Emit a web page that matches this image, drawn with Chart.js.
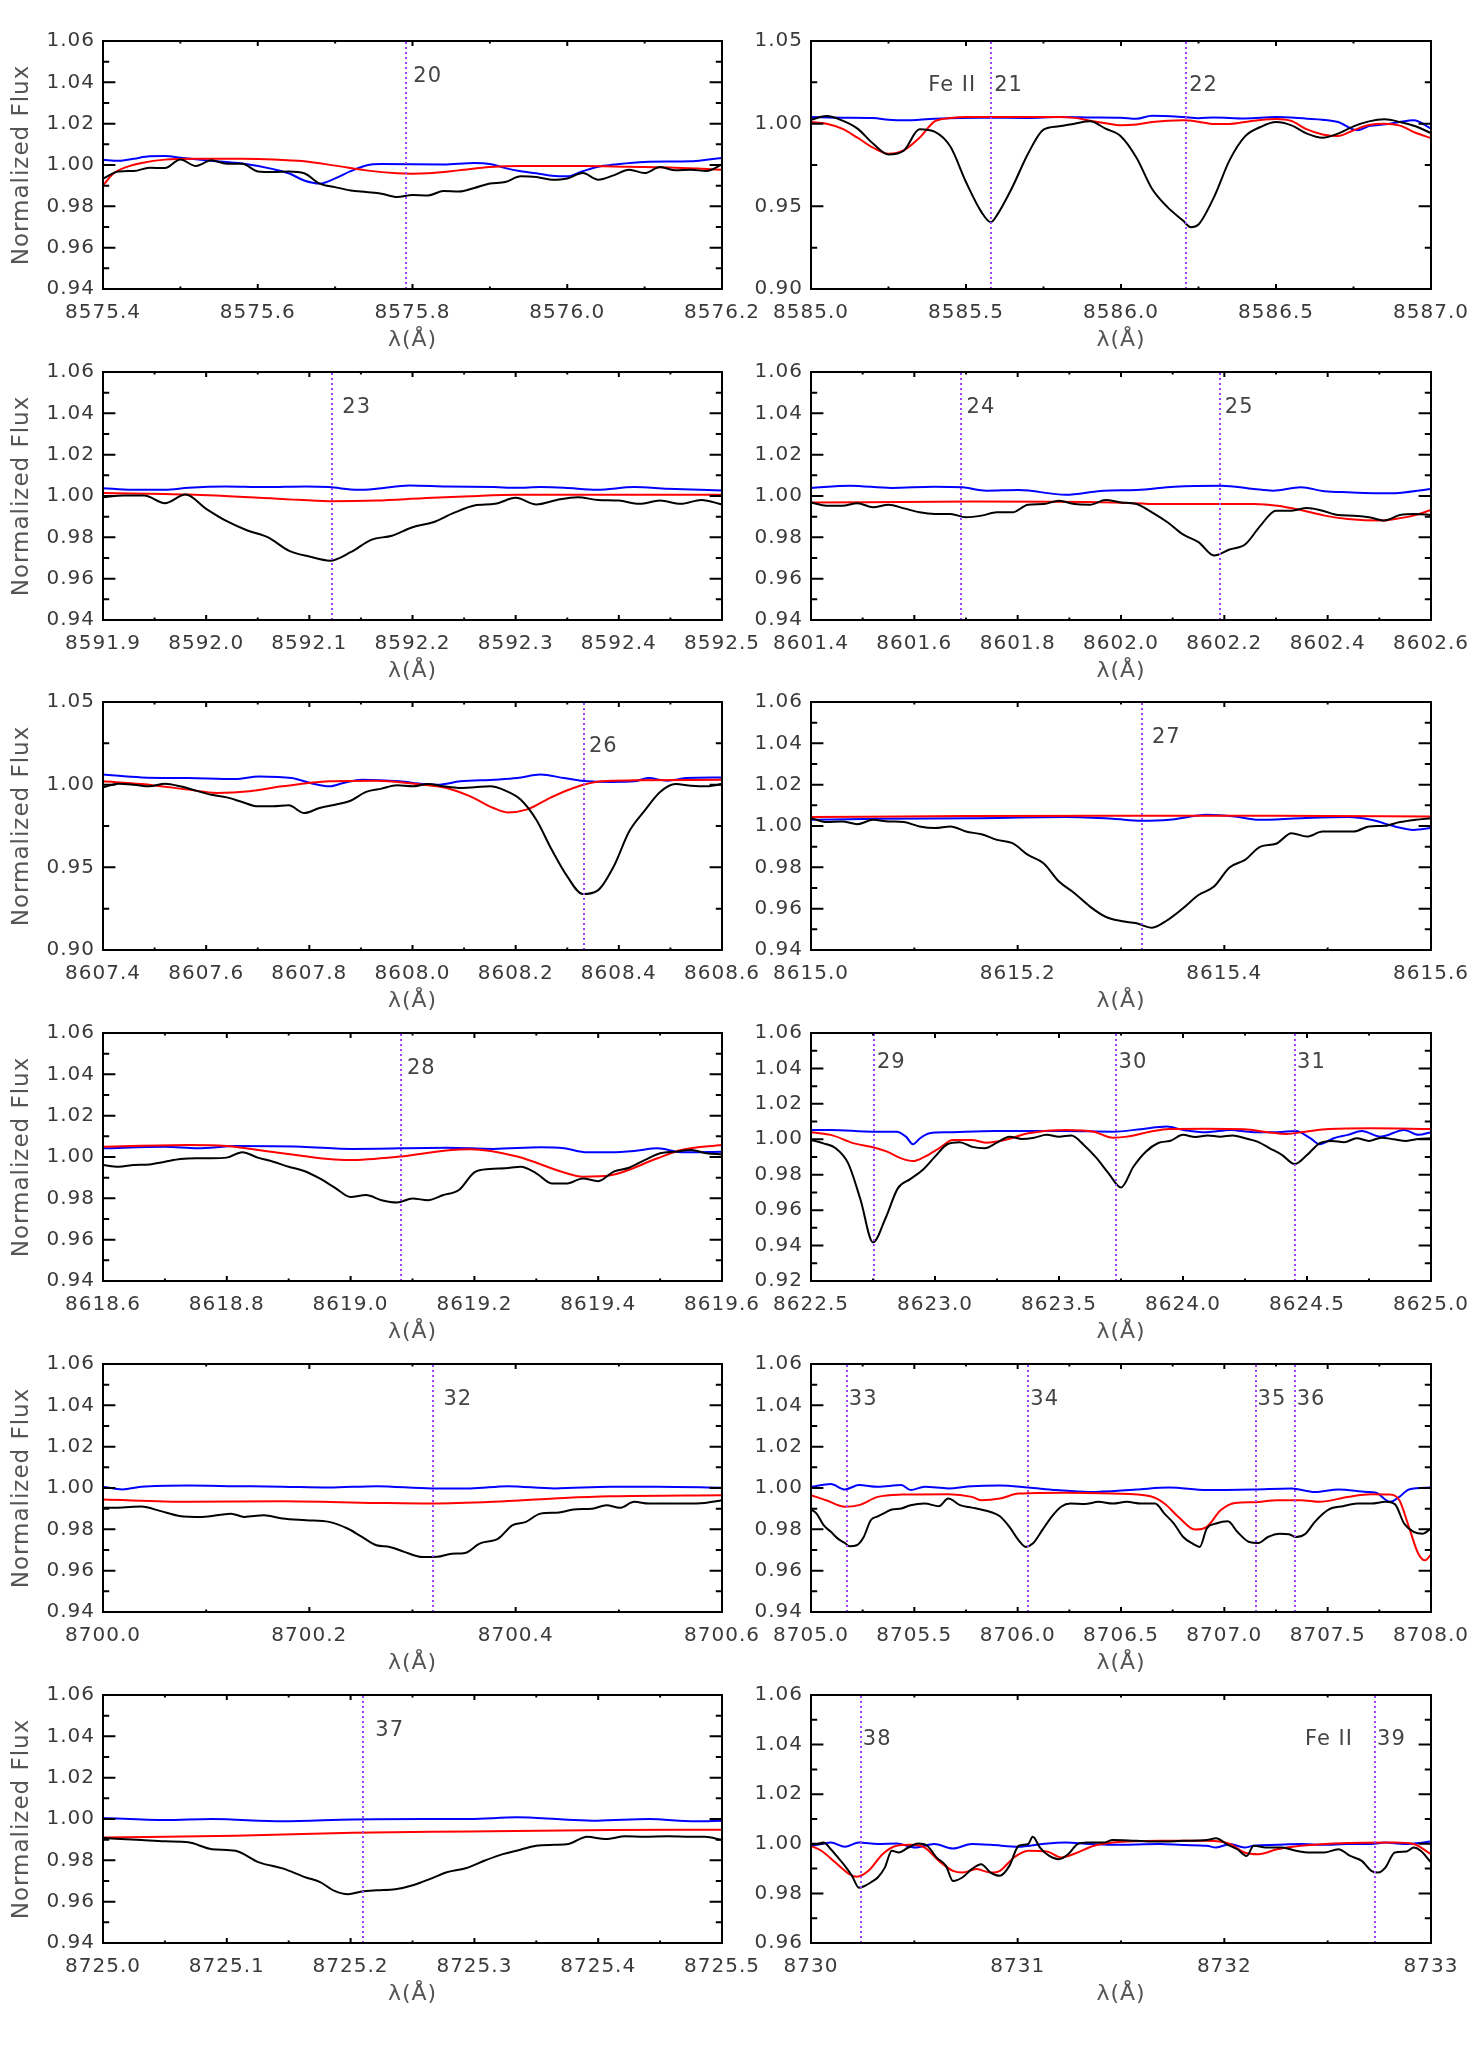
<!DOCTYPE html>
<html><head><meta charset="utf-8">
<script src="https://cdn.jsdelivr.net/npm/chart.js@4.4.1/dist/chart.umd.min.js"></script>
<style>
html,body{margin:0;padding:0;background:#fff;}
body{width:1475px;height:2067px;position:relative;overflow:hidden;}
canvas{position:absolute;}
</style>
</head><body>
<script>
// ---------------- DATA (wavelength, normalized flux) ----------------
const Y_TITLE = 'Normalized Flux';
const X_TITLE = 'λ(Å)';

const yticks_a = [0.94,0.96,0.98,1.00,1.02,1.04,1.06];
const yticks_b = [0.90,0.95,1.00,1.05];
const yticks_c = [0.92,0.94,0.96,0.98,1.00,1.02,1.04,1.06];
const yticks_d = [0.96,0.98,1.00,1.02,1.04,1.06];

// Panel 20
const p20_xticks = [8575.4,8575.6,8575.8,8576.0,8576.2];
const p20_lines = [8575.791];
const p20_names = ['20'];
const p20_black = [[8575.40,0.9934],[8575.42,0.9969],[8575.44,0.9971],[8575.46,0.9987],[8575.48,0.9985],[8575.50,1.0027],[8575.52,0.9995],[8575.54,1.0023],[8575.56,1.0006],[8575.58,1.0006],[8575.60,0.9969],[8575.62,0.9966],[8575.64,0.9968],[8575.66,0.9960],[8575.68,0.9910],[8575.70,0.9893],[8575.72,0.9877],[8575.74,0.9869],[8575.76,0.9861],[8575.78,0.9845],[8575.80,0.9855],[8575.82,0.9853],[8575.84,0.9874],[8575.86,0.9872],[8575.88,0.9889],[8575.90,0.9910],[8575.92,0.9918],[8575.94,0.9945],[8575.96,0.9942],[8575.98,0.9929],[8576.00,0.9935],[8576.02,0.9961],[8576.04,0.9929],[8576.06,0.9950],[8576.08,0.9977],[8576.10,0.9961],[8576.12,0.9990],[8576.14,0.9974],[8576.16,0.9977],[8576.18,0.9971],[8576.20,1.0003]];
const p20_red = [[8575.400,0.9900],[8575.413,0.9958],[8575.430,0.9990],[8575.450,1.0010],[8575.480,1.0026],[8575.520,1.0030],[8575.580,1.0030],[8575.620,1.0027],[8575.660,1.0018],[8575.700,0.9997],[8575.740,0.9974],[8575.780,0.9960],[8575.800,0.9958],[8575.820,0.9960],[8575.860,0.9974],[8575.900,0.9990],[8575.940,0.9995],[8576.020,0.9995],[8576.080,0.9991],[8576.140,0.9987],[8576.200,0.9977]];
const p20_blue = [[8575.40,1.0026],[8575.42,1.0020],[8575.44,1.0030],[8575.46,1.0042],[8575.48,1.0043],[8575.50,1.0035],[8575.54,1.0020],[8575.58,1.0007],[8575.62,0.9980],[8575.64,0.9960],[8575.66,0.9925],[8575.68,0.9910],[8575.70,0.9935],[8575.72,0.9970],[8575.74,0.9998],[8575.76,1.0005],[8575.84,1.0003],[8575.88,1.0010],[8575.90,1.0005],[8575.92,0.9985],[8575.94,0.9970],[8575.96,0.9960],[8575.98,0.9948],[8576.00,0.9945],[8576.02,0.9970],[8576.04,0.9992],[8576.06,1.0002],[8576.10,1.0015],[8576.16,1.0018],[8576.18,1.0025],[8576.20,1.0034]];

// Panel 21/22
const p21_xticks = [8585.0,8585.5,8586.0,8586.5,8587.0];
const p21_lines = [8585.581,8586.210];
const p21_names = ['21','22'];
const p21_species = ['Fe II',''];
const p21_black = [[8585.00,1.0024],[8585.05,1.0046],[8585.10,1.0020],[8585.15,0.9970],[8585.20,0.9880],[8585.25,0.9814],[8585.30,0.9838],[8585.35,0.9966],[8585.40,0.9950],[8585.45,0.9860],[8585.50,0.9647],[8585.55,0.9465],[8585.58,0.9404],[8585.60,0.9447],[8585.65,0.9618],[8585.70,0.9818],[8585.75,0.9964],[8585.80,0.9984],[8585.85,1.0000],[8585.90,1.0014],[8585.95,0.9970],[8586.00,0.9923],[8586.05,0.9794],[8586.10,0.9606],[8586.15,0.9495],[8586.20,0.9414],[8586.225,0.9374],[8586.25,0.9390],[8586.30,0.9556],[8586.35,0.9778],[8586.40,0.9923],[8586.45,0.9980],[8586.50,1.0010],[8586.55,0.9990],[8586.60,0.9940],[8586.65,0.9915],[8586.70,0.9940],[8586.75,0.9984],[8586.80,1.0014],[8586.85,1.0026],[8586.90,1.0010],[8586.95,0.9984],[8587.00,0.9943]];
const p21_red = [[8585.00,1.0010],[8585.05,1.0000],[8585.10,0.9970],[8585.15,0.9915],[8585.20,0.9855],[8585.25,0.9818],[8585.30,0.9840],[8585.35,0.9915],[8585.40,1.0015],[8585.45,1.0034],[8585.50,1.0040],[8585.80,1.0040],[8585.85,1.0035],[8585.90,1.0018],[8585.95,1.0003],[8586.00,0.9990],[8586.05,0.9995],[8586.10,1.0010],[8586.20,1.0020],[8586.25,1.0012],[8586.30,0.9998],[8586.35,0.9998],[8586.40,1.0010],[8586.45,1.0022],[8586.50,1.0028],[8586.55,1.0016],[8586.60,0.9965],[8586.65,0.9935],[8586.70,0.9925],[8586.75,0.9960],[8586.80,0.9992],[8586.85,1.0000],[8586.90,0.9988],[8586.95,0.9945],[8587.00,0.9913]];
const p21_blue = [[8585.00,1.0040],[8585.10,1.0036],[8585.20,1.0034],[8585.25,1.0024],[8585.30,1.0020],[8585.40,1.0030],[8585.55,1.0036],[8585.70,1.0035],[8585.80,1.0040],[8585.90,1.0038],[8586.00,1.0036],[8586.05,1.0030],[8586.10,1.0048],[8586.20,1.0040],[8586.25,1.0033],[8586.30,1.0038],[8586.40,1.0032],[8586.50,1.0040],[8586.60,1.0030],[8586.65,1.0024],[8586.70,1.0010],[8586.762,0.9960],[8586.80,0.9985],[8586.853,0.9996],[8586.898,1.0010],[8586.944,1.0020],[8587.00,0.9970]];

// Panel 23
const p23_xticks = [8591.9,8592.0,8592.1,8592.2,8592.3,8592.4,8592.5];
const p23_lines = [8592.122];
const p23_names = ['23'];
const p23_black = [[8591.90,0.9994],[8591.92,1.0002],[8591.94,1.0002],[8591.96,0.9965],[8591.98,1.0007],[8592.00,0.9938],[8592.02,0.9878],[8592.04,0.9833],[8592.06,0.9800],[8592.08,0.9736],[8592.10,0.9707],[8592.12,0.9687],[8592.14,0.9728],[8592.16,0.9788],[8592.18,0.9808],[8592.20,0.9849],[8592.22,0.9873],[8592.24,0.9918],[8592.26,0.9954],[8592.28,0.9962],[8592.30,0.9991],[8592.32,0.9959],[8592.34,0.9981],[8592.36,0.9994],[8592.38,0.9981],[8592.40,0.9978],[8592.42,0.9962],[8592.44,0.9978],[8592.46,0.9962],[8592.48,0.9981],[8592.50,0.9959]];
const p23_red = [[8591.900,1.0014],[8591.983,1.0007],[8592.074,0.9986],[8592.119,0.9975],[8592.165,0.9978],[8592.210,0.9989],[8592.256,0.9999],[8592.301,1.0006],[8592.500,1.0006]];
const p23_blue = [[8591.900,1.0038],[8591.928,1.0030],[8591.960,1.0030],[8591.983,1.0040],[8592.019,1.0046],[8592.056,1.0043],[8592.097,1.0046],[8592.119,1.0043],[8592.147,1.0030],[8592.165,1.0035],[8592.197,1.0051],[8592.233,1.0046],[8592.279,1.0043],[8592.301,1.0040],[8592.324,1.0043],[8592.347,1.0040],[8592.379,1.0030],[8592.415,1.0043],[8592.447,1.0035],[8592.479,1.0030],[8592.500,1.0027]];

// Panel 24/25
const p24_xticks = [8601.4,8601.6,8601.8,8602.0,8602.2,8602.4,8602.6];
const p24_lines = [8601.691,8602.191];
const p24_names = ['24','25'];
const p24_black = [[8601.40,0.9969],[8601.43,0.9953],[8601.46,0.9953],[8601.49,0.9965],[8601.52,0.9945],[8601.55,0.9958],[8601.58,0.9940],[8601.61,0.9921],[8601.64,0.9913],[8601.67,0.9913],[8601.70,0.9897],[8601.73,0.9905],[8601.76,0.9921],[8601.79,0.9921],[8601.82,0.9958],[8601.85,0.9961],[8601.88,0.9977],[8601.91,0.9961],[8601.94,0.9958],[8601.97,0.9981],[8602.00,0.9969],[8602.03,0.9961],[8602.06,0.9921],[8602.09,0.9873],[8602.12,0.9814],[8602.15,0.9777],[8602.18,0.9712],[8602.21,0.9741],[8602.24,0.9765],[8602.27,0.9857],[8602.30,0.9929],[8602.33,0.9929],[8602.36,0.9942],[8602.39,0.9929],[8602.42,0.9908],[8602.45,0.9905],[8602.48,0.9897],[8602.51,0.9881],[8602.54,0.9908],[8602.57,0.9913],[8602.60,0.9908]];
const p24_red = [[8601.400,0.9968],[8601.711,0.9973],[8601.984,0.9969],[8602.075,0.9961],[8602.257,0.9961],[8602.303,0.9953],[8602.348,0.9932],[8602.394,0.9905],[8602.439,0.9889],[8602.503,0.9881],[8602.530,0.9889],[8602.566,0.9905],[8602.600,0.9932]];
const p24_blue = [[8601.400,1.0039],[8601.475,1.0050],[8601.556,1.0039],[8601.638,1.0045],[8601.693,1.0042],[8601.739,1.0026],[8601.802,1.0029],[8601.893,1.0006],[8601.966,1.0026],[8602.030,1.0029],[8602.103,1.0045],[8602.194,1.0050],[8602.257,1.0034],[8602.294,1.0026],[8602.348,1.0042],[8602.394,1.0023],[8602.439,1.0018],[8602.521,1.0013],[8602.600,1.0034]];

// Panel 26
const p26_xticks = [8607.4,8607.6,8607.8,8608.0,8608.2,8608.4,8608.6];
const p26_lines = [8608.332];
const p26_names = ['26'];
const p26_black = [[8607.40,0.9984],[8607.43,1.0006],[8607.46,1.0000],[8607.49,0.9990],[8607.52,1.0006],[8607.55,0.9990],[8607.58,0.9964],[8607.61,0.9939],[8607.64,0.9923],[8607.67,0.9895],[8607.70,0.9869],[8607.73,0.9869],[8607.76,0.9875],[8607.79,0.9828],[8607.82,0.9859],[8607.85,0.9879],[8607.88,0.9903],[8607.91,0.9956],[8607.94,0.9976],[8607.97,0.9996],[8608.00,0.9990],[8608.03,1.0004],[8608.06,0.9990],[8608.09,0.9980],[8608.12,0.9984],[8608.15,0.9990],[8608.18,0.9964],[8608.21,0.9909],[8608.24,0.9788],[8608.27,0.9606],[8608.30,0.9445],[8608.33,0.9338],[8608.36,0.9362],[8608.39,0.9505],[8608.42,0.9717],[8608.45,0.9843],[8608.48,0.9956],[8608.51,1.0004],[8608.54,0.9994],[8608.57,0.9990],[8608.60,1.0004]];
const p26_red = [[8607.400,1.0020],[8607.475,1.0004],[8607.566,0.9970],[8607.620,0.9950],[8607.684,0.9960],[8607.748,0.9990],[8607.839,1.0020],[8607.930,1.0024],[8608.020,1.0000],[8608.066,0.9980],[8608.112,0.9929],[8608.157,0.9859],[8608.184,0.9832],[8608.221,0.9849],[8608.266,0.9919],[8608.312,0.9980],[8608.366,1.0020],[8608.430,1.0026],[8608.600,1.0030]];
const p26_blue = [[8607.400,1.0061],[8607.475,1.0044],[8607.566,1.0040],[8607.657,1.0034],[8607.702,1.0050],[8607.766,1.0040],[8607.802,1.0010],[8607.839,0.9990],[8607.866,1.0010],[8607.902,1.0030],[8607.975,1.0020],[8608.020,1.0004],[8608.048,1.0000],[8608.093,1.0020],[8608.157,1.0030],[8608.203,1.0040],[8608.248,1.0061],[8608.294,1.0040],[8608.339,1.0020],[8608.385,1.0016],[8608.430,1.0020],[8608.457,1.0040],[8608.494,1.0024],[8608.530,1.0040],[8608.600,1.0044]];

// Panel 27
const p27_xticks = [8615.0,8615.2,8615.4,8615.6];
const p27_lines = [8615.320];
const p27_names = ['27'];
const p27_black = [[8615.000,1.0038],[8615.015,1.0019],[8615.030,1.0022],[8615.045,1.0009],[8615.060,1.0030],[8615.075,1.0022],[8615.090,1.0019],[8615.105,0.9998],[8615.120,0.9990],[8615.135,0.9998],[8615.150,0.9973],[8615.165,0.9960],[8615.180,0.9933],[8615.195,0.9917],[8615.210,0.9860],[8615.225,0.9820],[8615.240,0.9731],[8615.255,0.9675],[8615.270,0.9610],[8615.285,0.9561],[8615.300,0.9540],[8615.315,0.9529],[8615.330,0.9508],[8615.345,0.9545],[8615.360,0.9602],[8615.375,0.9666],[8615.390,0.9707],[8615.405,0.9799],[8615.420,0.9836],[8615.435,0.9900],[8615.450,0.9914],[8615.465,0.9965],[8615.480,0.9949],[8615.495,0.9973],[8615.510,0.9973],[8615.525,0.9973],[8615.540,0.9998],[8615.555,1.0001],[8615.570,1.0019],[8615.585,1.0030],[8615.600,1.0038]];
const p27_red = [[8615.00,1.0043],[8615.15,1.0048],[8615.30,1.0050],[8615.45,1.0049],[8615.60,1.0046]];
const p27_blue = [[8615.000,1.0030],[8615.065,1.0035],[8615.156,1.0038],[8615.247,1.0043],[8615.292,1.0035],[8615.320,1.0025],[8615.347,1.0030],[8615.383,1.0054],[8615.410,1.0046],[8615.433,1.0030],[8615.474,1.0038],[8615.520,1.0043],[8615.542,1.0030],[8615.565,0.9998],[8615.583,0.9981],[8615.600,0.9990]];

// Panel 28
const p28_xticks = [8618.6,8618.8,8619.0,8619.2,8619.4,8619.6];
const p28_lines = [8619.081];
const p28_names = ['28'];
const p28_black = [[8618.600,0.9961],[8618.625,0.9953],[8618.650,0.9961],[8618.675,0.9964],[8618.700,0.9977],[8618.725,0.9990],[8618.750,0.9994],[8618.775,0.9994],[8618.800,0.9997],[8618.825,1.0023],[8618.850,0.9997],[8618.875,0.9977],[8618.900,0.9953],[8618.925,0.9932],[8618.950,0.9896],[8618.975,0.9851],[8619.000,0.9807],[8619.025,0.9816],[8619.050,0.9791],[8619.075,0.9780],[8619.100,0.9799],[8619.125,0.9791],[8619.150,0.9816],[8619.175,0.9840],[8619.200,0.9926],[8619.225,0.9942],[8619.250,0.9945],[8619.275,0.9953],[8619.300,0.9921],[8619.325,0.9872],[8619.350,0.9872],[8619.375,0.9896],[8619.400,0.9883],[8619.425,0.9929],[8619.450,0.9948],[8619.475,0.9985],[8619.500,1.0018],[8619.525,1.0026],[8619.550,1.0034],[8619.575,1.0018],[8619.600,1.0013]];
const p28_red = [[8618.600,1.0050],[8618.738,1.0058],[8618.799,1.0053],[8618.890,1.0018],[8618.996,0.9985],[8619.079,1.0002],[8619.163,1.0034],[8619.193,1.0037],[8619.269,1.0002],[8619.345,0.9925],[8619.375,0.9905],[8619.420,0.9912],[8619.496,0.9994],[8619.534,1.0034],[8619.600,1.0058]];
const p28_blue = [[8618.600,1.0042],[8618.700,1.0050],[8618.753,1.0042],[8618.814,1.0053],[8618.920,1.0050],[8619.003,1.0039],[8619.155,1.0045],[8619.231,1.0039],[8619.307,1.0047],[8619.345,1.0042],[8619.382,1.0023],[8619.420,1.0023],[8619.458,1.0029],[8619.496,1.0042],[8619.534,1.0023],[8619.600,1.0026]];

// Panel 29/30/31
const p29_xticks = [8622.5,8623.0,8623.5,8624.0,8624.5,8625.0];
const p29_lines = [8622.756,8623.730,8624.450];
const p29_names = ['29','30','31'];
const p29_black = [[8622.50,0.9996],[8622.55,0.9977],[8622.60,0.9949],[8622.65,0.9864],[8622.70,0.9657],[8622.75,0.9418],[8622.80,0.9553],[8622.85,0.9723],[8622.90,0.9775],[8622.95,0.9826],[8623.00,0.9902],[8623.05,0.9972],[8623.10,0.9983],[8623.15,0.9957],[8623.20,0.9949],[8623.25,0.9981],[8623.30,1.0015],[8623.35,1.0002],[8623.40,1.0009],[8623.45,1.0025],[8623.50,1.0015],[8623.55,1.0021],[8623.60,0.9968],[8623.65,0.9896],[8623.70,0.9808],[8623.75,0.9728],[8623.80,0.9845],[8623.85,0.9930],[8623.90,0.9979],[8623.95,0.9992],[8624.00,1.0025],[8624.05,1.0013],[8624.10,1.0021],[8624.15,1.0015],[8624.20,1.0021],[8624.25,1.0006],[8624.30,0.9987],[8624.35,0.9949],[8624.40,0.9911],[8624.45,0.9860],[8624.50,0.9911],[8624.55,0.9977],[8624.60,0.9991],[8624.65,0.9983],[8624.70,1.0006],[8624.75,0.9991],[8624.80,1.0009],[8624.85,1.0000],[8624.90,0.9991],[8624.95,1.0002],[8625.00,1.0006]];
const p29_red = [[8622.500,1.0040],[8622.580,1.0025],[8622.674,0.9977],[8622.750,0.9955],[8622.807,0.9930],[8622.864,0.9892],[8622.911,0.9877],[8622.959,0.9902],[8623.016,0.9949],[8623.072,0.9996],[8623.148,0.9996],[8623.205,0.9981],[8623.281,0.9996],[8623.376,1.0034],[8623.528,1.0053],[8623.641,1.0043],[8623.717,1.0009],[8623.774,1.0015],[8623.868,1.0043],[8623.944,1.0058],[8624.096,1.0060],[8624.248,1.0057],[8624.342,1.0040],[8624.418,1.0030],[8624.494,1.0043],[8624.589,1.0058],[8624.759,1.0062],[8625.000,1.0058]];
const p29_blue = [[8622.500,1.0053],[8622.580,1.0053],[8622.750,1.0043],[8622.845,1.0043],[8622.883,1.0015],[8622.911,0.9972],[8622.940,1.0006],[8622.978,1.0034],[8623.053,1.0040],[8623.243,1.0047],[8623.527,1.0047],[8623.717,1.0043],[8623.831,1.0057],[8623.935,1.0072],[8624.001,1.0053],[8624.096,1.0040],[8624.191,1.0053],[8624.285,1.0040],[8624.380,1.0040],[8624.456,1.0047],[8624.513,1.0006],[8624.551,0.9972],[8624.608,1.0006],[8624.665,1.0025],[8624.721,1.0047],[8624.797,1.0015],[8624.892,1.0053],[8624.949,1.0025],[8625.000,1.0040]];

// Panel 32
const p32_xticks = [8700.0,8700.2,8700.4,8700.6];
const p32_lines = [8700.320];
const p32_names = ['32'];
const p32_black = [[8700.000,0.9904],[8700.019,0.9906],[8700.037,0.9910],[8700.056,0.9888],[8700.074,0.9865],[8700.096,0.9860],[8700.124,0.9876],[8700.137,0.9860],[8700.156,0.9868],[8700.174,0.9852],[8700.197,0.9844],[8700.219,0.9836],[8700.237,0.9804],[8700.251,0.9763],[8700.265,0.9723],[8700.278,0.9715],[8700.292,0.9691],[8700.310,0.9666],[8700.324,0.9667],[8700.338,0.9682],[8700.351,0.9686],[8700.365,0.9731],[8700.383,0.9755],[8700.397,0.9820],[8700.410,0.9836],[8700.424,0.9876],[8700.442,0.9881],[8700.456,0.9896],[8700.474,0.9900],[8700.488,0.9917],[8700.501,0.9904],[8700.515,0.9933],[8700.529,0.9925],[8700.547,0.9925],[8700.565,0.9925],[8700.583,0.9928],[8700.600,0.9941]];
const p32_red = [[8700.000,0.9944],[8700.083,0.9933],[8700.174,0.9936],[8700.265,0.9928],[8700.319,0.9925],[8700.378,0.9933],[8700.447,0.9952],[8700.492,0.9960],[8700.600,0.9965]];
const p32_blue = [[8700.000,1.0006],[8700.019,0.9993],[8700.037,1.0006],[8700.083,1.0012],[8700.128,1.0009],[8700.174,1.0006],[8700.219,1.0002],[8700.265,1.0009],[8700.319,0.9998],[8700.356,0.9998],[8700.392,1.0009],[8700.438,0.9998],[8700.492,1.0006],[8700.538,1.0006],[8700.600,1.0001]];

// Panel 33-36
const p33_xticks = [8705.0,8705.5,8706.0,8706.5,8707.0,8707.5,8708.0];
const p33_lines = [8705.173,8706.051,8707.151,8707.340];
const p33_names = ['33','34','35','36'];
const p33_black = [[8705.000,0.9896],[8705.027,0.9876],[8705.061,0.9820],[8705.096,0.9788],[8705.130,0.9755],[8705.164,0.9734],[8705.186,0.9718],[8705.221,0.9723],[8705.255,0.9763],[8705.289,0.9844],[8705.323,0.9863],[8705.357,0.9880],[8705.391,0.9896],[8705.437,0.9901],[8705.482,0.9917],[8705.550,0.9925],[8705.619,0.9912],[8705.664,0.9949],[8705.721,0.9917],[8705.778,0.9905],[8705.823,0.9896],[8705.869,0.9884],[8705.914,0.9863],[8705.960,0.9812],[8706.005,0.9747],[8706.039,0.9715],[8706.073,0.9731],[8706.119,0.9796],[8706.164,0.9860],[8706.210,0.9909],[8706.255,0.9925],[8706.324,0.9922],[8706.392,0.9933],[8706.460,0.9925],[8706.528,0.9933],[8706.597,0.9925],[8706.665,0.9925],[8706.710,0.9876],[8706.756,0.9828],[8706.801,0.9763],[8706.847,0.9731],[8706.881,0.9715],[8706.915,0.9804],[8706.960,0.9828],[8707.017,0.9839],[8707.063,0.9788],[8707.120,0.9739],[8707.165,0.9734],[8707.211,0.9763],[8707.267,0.9779],[8707.313,0.9776],[8707.347,0.9763],[8707.393,0.9779],[8707.438,0.9836],[8707.506,0.9896],[8707.574,0.9912],[8707.643,0.9925],[8707.711,0.9925],[8707.779,0.9933],[8707.825,0.9922],[8707.870,0.9828],[8707.916,0.9788],[8707.961,0.9779],[8708.000,0.9804]];
const p33_red = [[8705.000,0.9965],[8705.073,0.9941],[8705.164,0.9909],[8705.232,0.9917],[8705.323,0.9957],[8705.437,0.9968],[8705.664,0.9970],[8705.778,0.9957],[8705.823,0.9941],[8705.914,0.9949],[8706.005,0.9973],[8706.233,0.9977],[8706.460,0.9973],[8706.642,0.9960],[8706.710,0.9925],[8706.778,0.9860],[8706.858,0.9799],[8706.915,0.9812],[8706.983,0.9893],[8707.051,0.9928],[8707.142,0.9931],[8707.256,0.9941],[8707.370,0.9941],[8707.461,0.9933],[8707.597,0.9957],[8707.711,0.9970],[8707.802,0.9968],[8707.847,0.9941],[8707.893,0.9812],[8707.938,0.9683],[8707.972,0.9650],[8708.000,0.9679]];
const p33_blue = [[8705.000,1.0006],[8705.096,1.0019],[8705.164,0.9993],[8705.232,1.0014],[8705.323,1.0006],[8705.437,1.0014],[8705.482,0.9990],[8705.550,1.0006],[8705.664,0.9998],[8705.778,1.0009],[8705.914,1.0012],[8706.051,1.0002],[8706.187,0.9990],[8706.346,0.9981],[8706.574,0.9993],[8706.733,1.0002],[8706.915,0.9990],[8707.142,0.9993],[8707.324,0.9998],[8707.438,0.9981],[8707.552,0.9993],[8707.688,0.9981],[8707.734,0.9977],[8707.802,0.9933],[8707.847,0.9957],[8707.893,0.9993],[8708.000,1.0002]];

// Panel 37
const p37_xticks = [8725.0,8725.1,8725.2,8725.3,8725.4,8725.5];
const p37_lines = [8725.210];
const p37_names = ['37'];
const p37_black = [[8725.000,0.9908],[8725.031,0.9898],[8725.050,0.9892],[8725.069,0.9887],[8725.088,0.9854],[8725.107,0.9846],[8725.126,0.9790],[8725.145,0.9761],[8725.164,0.9717],[8725.175,0.9696],[8725.187,0.9652],[8725.198,0.9636],[8725.209,0.9649],[8725.221,0.9655],[8725.236,0.9660],[8725.251,0.9681],[8725.266,0.9714],[8725.277,0.9741],[8725.293,0.9762],[8725.308,0.9798],[8725.323,0.9830],[8725.334,0.9846],[8725.350,0.9871],[8725.365,0.9875],[8725.376,0.9879],[8725.391,0.9914],[8725.406,0.9903],[8725.422,0.9916],[8725.437,0.9914],[8725.456,0.9916],[8725.475,0.9914],[8725.486,0.9914],[8725.500,0.9898]];
const p37_red = [[8725.000,0.9911],[8725.107,0.9919],[8725.202,0.9934],[8725.296,0.9940],[8725.410,0.9947],[8725.500,0.9948]];
const p37_blue = [[8725.000,1.0005],[8725.050,0.9995],[8725.088,1.0000],[8725.145,0.9989],[8725.202,0.9998],[8725.259,1.0000],[8725.296,1.0000],[8725.334,1.0008],[8725.372,0.9998],[8725.399,0.9992],[8725.441,1.0000],[8725.478,0.9989],[8725.500,0.9992]];

// Panel 38/39
const p38_xticks = [8730,8731,8732,8733];
const p38_lines = [8730.241,8732.729];
const p38_names = ['38','39'];
const p38_species = ['','Fe II'];
const p38_black = [[8730.000,0.9996],[8730.027,0.9999],[8730.061,1.0005],[8730.096,0.9978],[8730.130,0.9945],[8730.164,0.9911],[8730.198,0.9871],[8730.232,0.9823],[8730.259,0.9830],[8730.289,0.9844],[8730.323,0.9864],[8730.357,0.9904],[8730.391,0.9972],[8730.425,0.9965],[8730.471,0.9985],[8730.516,1.0001],[8730.562,0.9992],[8730.607,0.9945],[8730.653,0.9911],[8730.687,0.9850],[8730.732,0.9864],[8730.778,0.9898],[8730.823,0.9918],[8730.869,0.9884],[8730.914,0.9871],[8730.960,0.9911],[8731.005,0.9992],[8731.051,0.9999],[8731.073,1.0028],[8731.108,0.9985],[8731.153,0.9951],[8731.199,0.9938],[8731.244,0.9958],[8731.290,0.9999],[8731.335,1.0005],[8731.415,1.0005],[8731.460,1.0015],[8731.574,1.0012],[8731.688,1.0009],[8731.801,1.0012],[8731.915,1.0015],[8731.960,1.0022],[8732.017,0.9996],[8732.063,0.9978],[8732.108,0.9951],[8732.142,0.9992],[8732.211,0.9985],[8732.279,0.9985],[8732.347,0.9972],[8732.415,0.9965],[8732.483,0.9965],[8732.552,0.9978],[8732.609,0.9951],[8732.665,0.9931],[8732.711,0.9891],[8732.745,0.9884],[8732.779,0.9904],[8732.825,0.9965],[8732.882,0.9969],[8732.916,0.9985],[8732.950,0.9972],[8733.000,0.9925]];
const p38_red = [[8730.000,0.9992],[8730.050,0.9972],[8730.118,0.9925],[8730.187,0.9877],[8730.221,0.9867],[8730.278,0.9891],[8730.346,0.9958],[8730.414,0.9992],[8730.482,0.9996],[8730.550,0.9985],[8730.619,0.9931],[8730.687,0.9891],[8730.732,0.9884],[8730.801,0.9898],[8730.869,0.9884],[8730.914,0.9891],[8730.982,0.9945],[8731.051,0.9972],[8731.142,0.9969],[8731.210,0.9945],[8731.278,0.9961],[8731.369,0.9992],[8731.460,1.0005],[8731.688,1.0012],[8731.915,1.0012],[8732.028,0.9999],[8732.097,0.9965],[8732.165,0.9958],[8732.256,0.9978],[8732.370,0.9992],[8732.597,1.0003],[8732.825,1.0005],[8732.916,0.9999],[8733.000,0.9958]];
const p38_blue = [[8730.000,0.9992],[8730.050,0.9999],[8730.096,1.0005],[8730.164,0.9988],[8730.232,1.0005],[8730.323,0.9999],[8730.414,1.0001],[8730.505,0.9985],[8730.596,0.9999],[8730.687,0.9981],[8730.778,0.9999],[8730.869,0.9996],[8731.005,0.9988],[8731.119,0.9999],[8731.233,1.0005],[8731.346,0.9999],[8731.460,0.9996],[8731.688,0.9999],[8731.801,0.9995],[8731.915,0.9992],[8731.960,0.9985],[8732.028,0.9999],[8732.097,0.9985],[8732.142,0.9992],[8732.256,0.9996],[8732.370,0.9999],[8732.483,0.9996],[8732.597,0.9999],[8732.711,0.9999],[8732.779,1.0005],[8732.870,0.9999],[8732.961,1.0005],[8733.000,1.0010]];

// ---------------- LAYOUT / STYLE ----------------
const ROW_TOPS = [41, 372, 702, 1033, 1364, 1695];
const PLOT_H = 248;
const COLS = [
  {left: 0,   width: 770, axisW: 103, padR: 48, title: true},
  {left: 740, width: 735, axisW: 71,  padR: 44, title: false}
];
const PAD_TOP = 20, XAXIS_H = 64;
const FONT = 'DejaVu Sans';
const TICK_COLOR = '#3a3a3a', TITLE_COLOR = '#555', LABEL_COLOR = '#444';
const VLINE_COLOR = '#a040ff';

const PANELS = [
  {row:0,col:0,b:p20_black,r:p20_red,u:p20_blue,xt:p20_xticks,yt:yticks_a,xd:1,lines:p20_lines,names:p20_names,sp:null,ly:1.04},
  {row:0,col:1,b:p21_black,r:p21_red,u:p21_blue,xt:p21_xticks,yt:yticks_b,xd:1,lines:p21_lines,names:p21_names,sp:p21_species,ly:1.02,gap:15},
  {row:1,col:0,b:p23_black,r:p23_red,u:p23_blue,xt:p23_xticks,yt:yticks_a,xd:1,lines:p23_lines,names:p23_names,sp:null,ly:1.04},
  {row:1,col:1,b:p24_black,r:p24_red,u:p24_blue,xt:p24_xticks,yt:yticks_a,xd:1,lines:p24_lines,names:p24_names,sp:null,ly:1.04},
  {row:2,col:0,b:p26_black,r:p26_red,u:p26_blue,xt:p26_xticks,yt:yticks_b,xd:1,lines:p26_lines,names:p26_names,sp:null,ly:1.02},
  {row:2,col:1,b:p27_black,r:p27_red,u:p27_blue,xt:p27_xticks,yt:yticks_a,xd:1,lines:p27_lines,names:p27_names,sp:null,ly:1.04},
  {row:3,col:0,b:p28_black,r:p28_red,u:p28_blue,xt:p28_xticks,yt:yticks_a,xd:1,lines:p28_lines,names:p28_names,sp:null,ly:1.04},
  {row:3,col:1,b:p29_black,r:p29_red,u:p29_blue,xt:p29_xticks,yt:yticks_c,xd:1,lines:p29_lines,names:p29_names,sp:null,ly:1.04},
  {row:4,col:0,b:p32_black,r:p32_red,u:p32_blue,xt:p32_xticks,yt:yticks_a,xd:1,lines:p32_lines,names:p32_names,sp:null,ly:1.04},
  {row:4,col:1,b:p33_black,r:p33_red,u:p33_blue,xt:p33_xticks,yt:yticks_a,xd:1,lines:p33_lines,names:p33_names,sp:null,ly:1.04},
  {row:5,col:0,b:p37_black,r:p37_red,u:p37_blue,xt:p37_xticks,yt:yticks_a,xd:1,lines:p37_lines,names:p37_names,sp:null,ly:1.04},
  {row:5,col:1,b:p38_black,r:p38_red,u:p38_blue,xt:p38_xticks,yt:yticks_d,xd:0,lines:p38_lines,names:p38_names,sp:p38_species,ly:1.04,gap:22}
];

const CFG = new Map();

const idlPlugin = {
  id: 'idlFrame',
  beforeDraw(chart) {
    try { chart.ctx.letterSpacing = '1px'; } catch (e) {}
  },
  afterDatasetsDraw(chart) {
    const c = CFG.get(chart.canvas);
    if (!c) return;
    const ctx = chart.ctx, a = chart.chartArea, xs = chart.scales.x, ys = chart.scales.y;
    ctx.save();
    // dotted line markers
    ctx.strokeStyle = VLINE_COLOR; ctx.lineWidth = 2; ctx.setLineDash([2, 3]);
    c.lines.forEach(v => {
      const px = Math.round(xs.getPixelForValue(v));
      ctx.beginPath(); ctx.moveTo(px, a.bottom); ctx.lineTo(px, a.top); ctx.stroke();
    });
    ctx.setLineDash([]);
    // line labels
    ctx.fillStyle = LABEL_COLOR; ctx.font = '21px "' + FONT + '"'; ctx.textBaseline = 'alphabetic';
    const ly = ys.getPixelForValue(c.ly);
    c.lines.forEach((v, i) => {
      ctx.textAlign = 'left';
      ctx.fillText(c.names[i], xs.getPixelForValue(v + 0.01), ly);
      if (c.sp && c.sp[i]) {
        ctx.textAlign = 'right';
        ctx.fillText(c.sp[i], xs.getPixelForValue(v) - c.gap, ly);
      }
    });
    // frame
    ctx.strokeStyle = '#000'; ctx.lineWidth = 2;
    ctx.strokeRect(a.left, a.top, a.right - a.left, a.bottom - a.top);
    // ticks (inward, all four sides, one minor between majors)
    const X_MAJ = 5, X_MIN = 2.5, Y_MAJ = 12.4, Y_MIN = 6.2;
    ctx.beginPath();
    const tx = (v, len) => { const p = xs.getPixelForValue(v);
      ctx.moveTo(p, a.bottom); ctx.lineTo(p, a.bottom - len);
      ctx.moveTo(p, a.top); ctx.lineTo(p, a.top + len); };
    const ty = (v, len) => { const p = ys.getPixelForValue(v);
      ctx.moveTo(a.left, p); ctx.lineTo(a.left + len, p);
      ctx.moveTo(a.right, p); ctx.lineTo(a.right - len, p); };
    c.xt.forEach((v, i) => { tx(v, X_MAJ); if (i < c.xt.length - 1) tx((v + c.xt[i + 1]) / 2, X_MIN); });
    c.yt.forEach((v, i) => { ty(v, Y_MAJ); if (i < c.yt.length - 1) ty((v + c.yt[i + 1]) / 2, Y_MIN); });
    ctx.stroke();
    ctx.restore();
  }
};

function series(pairs, color) {
  return {
    data: pairs.map(p => ({x: p[0], y: p[1]})),
    borderColor: color, backgroundColor: color, borderWidth: 2,
    pointRadius: 0, pointHoverRadius: 0, fill: false,
    cubicInterpolationMode: 'monotone'
  };
}

PANELS.forEach(p => {
  const col = COLS[p.col];
  const cv = document.createElement('canvas');
  cv.width = col.width; cv.height = PAD_TOP + PLOT_H + XAXIS_H;
  cv.style.left = col.left + 'px';
  cv.style.top = (ROW_TOPS[p.row] - PAD_TOP) + 'px';
  cv.style.width = col.width + 'px'; cv.style.height = cv.height + 'px';
  document.body.appendChild(cv);
  CFG.set(cv, p);
  const xt = p.xt, yt = p.yt;
  new Chart(cv.getContext('2d'), {
    type: 'line',
    data: { datasets: [series(p.b, '#000000'), series(p.r, '#ff0000'), series(p.u, '#0000ff')] },
    options: {
      responsive: false, animation: false, devicePixelRatio: 1,
      events: [],
      layout: { padding: { left: 0, right: col.padR, top: PAD_TOP, bottom: 0 } },
      plugins: { legend: { display: false }, tooltip: { enabled: false } },
      scales: {
        x: {
          type: 'linear', min: xt[0], max: xt[xt.length - 1],
          grid: { display: false, drawTicks: false, tickLength: 0 }, border: { display: false },
          afterBuildTicks: s => { s.ticks = xt.map(v => ({ value: v })); },
          ticks: { callback: v => Number(v).toFixed(p.xd), color: TICK_COLOR, padding: 12,
                   font: { family: FONT, size: 20 }, maxRotation: 0, autoSkip: false },
          title: { display: true, text: X_TITLE, color: TITLE_COLOR, padding: { top: 0, bottom: 0 },
                   font: { family: FONT, size: 22 } },
          afterFit: s => { s.height = XAXIS_H; s.paddingLeft = 0; s.paddingRight = 0; s.paddingTop = 0; s.paddingBottom = 0; }
        },
        y: {
          type: 'linear', min: yt[0], max: yt[yt.length - 1],
          grid: { display: false, drawTicks: false, tickLength: 0 }, border: { display: false },
          afterBuildTicks: s => { s.ticks = yt.map(v => ({ value: v })); },
          ticks: { callback: v => Number(v).toFixed(2), color: TICK_COLOR, padding: 8,
                   font: { family: FONT, size: 20 }, autoSkip: false },
          title: { display: col.title, text: Y_TITLE, color: TITLE_COLOR, padding: { top: 8, bottom: 0 },
                   font: { family: FONT, size: 23 } },
          afterFit: s => { s.width = col.axisW; s.paddingLeft = 0; s.paddingRight = 0; s.paddingTop = 0; s.paddingBottom = 0; }
        }
      }
    },
    plugins: [idlPlugin]
  });
});
</script>
</body></html>
